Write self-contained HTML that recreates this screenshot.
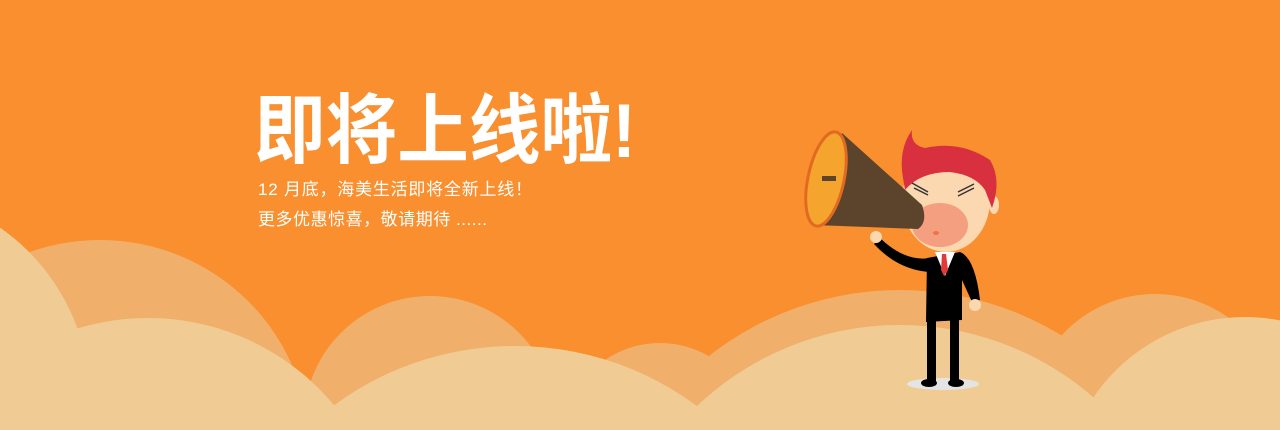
<!DOCTYPE html>
<html><head><meta charset="utf-8"><style>
html,body{margin:0;padding:0;width:1280px;height:430px;overflow:hidden;background:#F98F2F}
svg{display:block;overflow:hidden}
</style></head><body>
<svg width="1280" height="430" viewBox="0 0 1280 430">
<rect width="1280" height="430" fill="#F98F2F"/>
<g fill="#F0B06B">
<circle cx="100" cy="450" r="210"/>
<circle cx="430" cy="422" r="126"/>
<circle cx="660" cy="440" r="97"/>
<circle cx="900" cy="600" r="310"/>
<circle cx="1155" cy="420" r="126"/>
</g>
<g fill="#F0CC94">
<circle cx="-120" cy="400" r="210"/>
<circle cx="148" cy="560" r="242"/>
<circle cx="515" cy="652" r="306"/>
<circle cx="900" cy="620" r="295"/>
<circle cx="1245" cy="500" r="183"/>
</g>
<text x="254" y="157" fill="#fff" font-family="'Liberation Sans','Noto Sans CJK SC',sans-serif" font-weight="bold" font-size="76" textLength="382" lengthAdjust="spacingAndGlyphs">即将上线啦!</text>
<text x="258" y="195" fill="#fff" font-family="'Liberation Sans','Noto Sans CJK SC',sans-serif" font-size="17" textLength="274">12 月底，海美生活即将全新上线！</text>
<text x="258" y="225" fill="#fff" font-family="'Liberation Sans','Noto Sans CJK SC',sans-serif" font-size="17" textLength="229">更多优惠惊喜，敬请期待 ......</text>
<g>
<ellipse cx="943" cy="384" rx="36" ry="6" fill="#E4E4E4"/>
<rect x="927" y="312" width="9" height="70" fill="#000"/>
<rect x="950" y="312" width="9" height="70" fill="#000"/>
<ellipse cx="929" cy="383" rx="8" ry="4" fill="#000"/>
<ellipse cx="956" cy="383" rx="8" ry="4" fill="#000"/>
<path d="M927 258 L960 252 Q975 258 980 300 L972 302 L962 280 L962 320 L926 322 Z" fill="#000"/>
<path d="M930 258 Q905 262 880 238 L874 244 Q898 270 930 272 Z" fill="#000"/>
<circle cx="876" cy="237" r="6" fill="#FBD8B0"/>
<circle cx="975" cy="305" r="6" fill="#FBD8B0"/>
<path d="M935 252 L955 252 L945 276 Z" fill="#fff"/>
<path d="M942 254 L946 254 L948 270 L944 276 L941 270 Z" fill="#E23A3A"/>
<ellipse cx="946" cy="200" rx="44" ry="52" fill="#FBD8B0"/>
<ellipse cx="994" cy="205" rx="5" ry="9" fill="#FBD8B0"/>
<path d="M903 178 Q898 150 912 130 Q910 145 925 148 Q960 140 990 160 Q1002 180 992 208 L985 190 Q975 175 950 172 Q920 172 905 190 Z" fill="#D8303F"/>
<ellipse cx="940" cy="225" rx="28" ry="22" fill="#F4A080"/>
<ellipse cx="936" cy="233" rx="3" ry="2" fill="#F07050"/>
<path d="M912 183 L928 192 M914 188 L928 195 M958 192 L974 184 M958 196 L974 188" stroke="#333" stroke-width="1.5"/>
<path d="M842 133 L922 205 Q928 222 918 229 L814 225 Z" fill="#5C442C"/>
<ellipse cx="826" cy="179" rx="18" ry="48" transform="rotate(12 826 179)" fill="#F5A52E" stroke="#E26A20" stroke-width="3"/>
<rect x="822" y="176" width="14" height="5" fill="#5C442C"/>
</g>
</svg>
</body></html>
